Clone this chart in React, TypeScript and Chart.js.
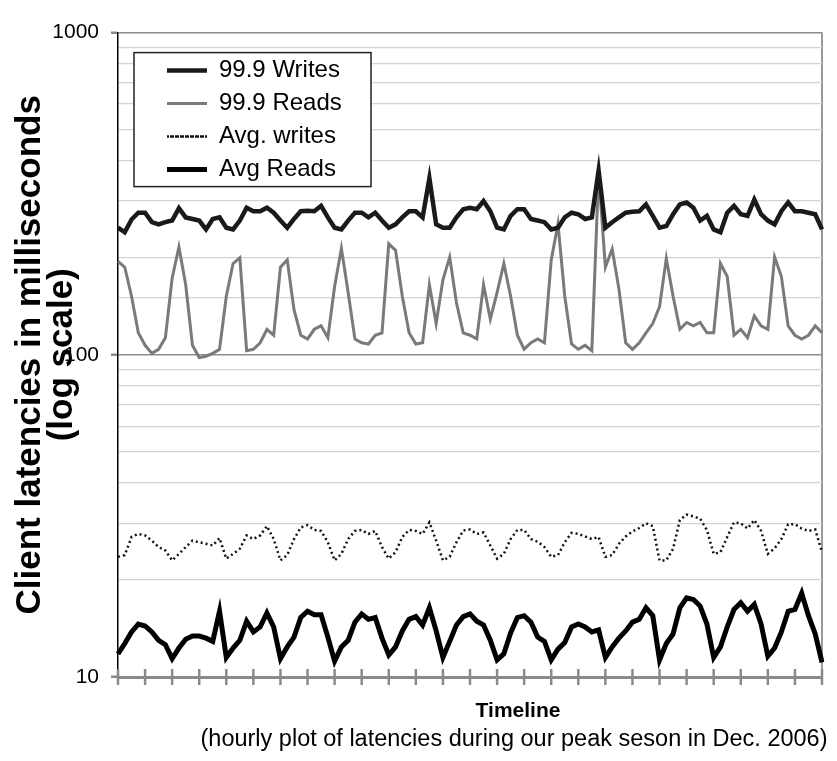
import React, { useEffect, useRef } from 'react';
import { Chart, registerables } from 'chart.js';

Chart.register(...registerables);

// ---- data ----
const timeline: string[] = Array.from({ length: 105 }, (_, i) => `t${i}`);
const TICK_EVERY = 4;

const writes999 = [
  248, 240, 263, 276, 276, 258, 254, 258, 261, 285,
  267, 264, 261, 245, 264, 267, 248, 245, 261, 286,
  279, 279, 286, 276, 261, 248, 264, 279, 280, 279,
  290, 267, 248, 245, 261, 276, 276, 267, 276, 261,
  248, 254, 267, 279, 279, 267, 353, 254, 248, 248,
  267, 283, 286,
  283, 300, 279, 248, 245, 270, 283,
  283, 264, 261, 258, 245, 248, 267, 276, 273, 264,
  267, 373, 248, 258, 267, 276, 278, 279, 293, 270,
  248, 251, 273, 293, 297, 286, 261, 270, 245, 240,
  276, 290, 273, 270, 303, 273, 261, 254, 279, 297,
  279, 279, 276, 273, 245,
];

const reads999 = [
  195, 187, 152, 117, 107, 101, 104, 113, 173, 216,
  165, 107, 98, 99, 101, 104, 152, 192, 200, 103,
  104, 109, 120, 115, 187, 197, 138, 115, 112, 120,
  123, 113, 163, 214, 156, 112, 109, 108, 115, 117,
  221, 211, 152, 117, 108, 109, 165, 125, 171, 201,
  145, 117, 115,
  112, 165, 129, 156, 192, 152, 115,
  104, 109, 112, 109, 197, 255, 152, 108, 104, 107,
  103, 366, 187, 213, 160, 109, 104, 109, 117, 125,
  141, 199, 152, 120, 126, 123, 126, 117, 117, 192,
  175, 115, 120, 113, 132, 123, 120, 201, 175, 123,
  115, 112, 115, 123, 117,
];

const avgWrites = [
  23.6, 23.9, 27.2, 27.8, 27.5, 26.5, 25.3, 24.7, 23.0, 24.1,
  25.3, 26.5, 26.2, 25.9, 25.6, 27.0, 23.3, 24.1, 25.0, 27.5,
  26.8, 27.5, 29.4, 26.8, 23.0, 23.9, 26.8, 29.1, 29.6, 28.6,
  28.4, 26.2, 23.0, 24.1, 26.8, 28.4, 28.6, 27.8, 28.4, 25.3,
  23.3, 24.4, 27.2, 28.6, 28.4, 27.8, 30.2, 26.5, 23.0, 23.6,
  26.2, 28.5, 28.7,
  27.8, 28.1, 25.6, 23.3, 24.1, 26.8, 28.6,
  28.6, 26.8, 26.3, 25.3, 23.6, 23.9, 26.2, 28.0, 27.8, 27.3,
  26.8, 27.2, 23.6, 23.9, 25.9, 27.3, 28.3, 29.0, 30.0, 29.4,
  23.0, 23.0, 25.0, 30.7, 31.9, 31.5, 31.0, 28.6, 24.1, 24.4,
  27.2, 30.2, 30.0, 28.9, 30.7, 28.4, 24.1, 25.1, 26.8, 29.8,
  29.8, 28.9, 28.4, 28.7, 24.4,
];

const avgReads = [
  11.8, 12.7, 13.8, 14.6, 14.4, 13.8, 13.0, 12.6, 11.4, 12.3,
  13.1, 13.4, 13.4, 13.2, 12.9, 16.0, 11.5, 12.3, 13.0, 14.9,
  13.8, 14.3, 15.8, 14.3, 11.4, 12.4, 13.3, 15.3, 16.0, 15.6,
  15.6, 13.3, 11.2, 12.4, 13.0, 14.8, 15.7, 15.1, 15.3, 13.2,
  11.7, 12.4, 13.9, 15.1, 15.4, 14.5, 16.4, 13.9, 11.5, 12.9,
  14.5, 15.4, 15.7,
  14.9, 14.5, 13.0, 11.3, 11.8, 13.7, 15.3,
  15.5, 14.8, 13.3, 12.9, 11.3, 12.2, 12.8, 14.3, 14.6, 14.3,
  13.8, 14.0, 11.5, 12.4, 13.2, 13.9, 14.8, 15.1, 16.4, 15.5,
  11.3, 12.7, 13.6, 16.4, 17.6, 17.4, 16.6, 14.6, 11.5, 12.4,
  14.3, 16.2, 17.0, 16.0, 16.8, 14.6, 11.6, 12.3, 13.8, 16.0,
  16.2, 18.2, 15.5, 13.6, 11.1,
];

const SERIES_NAMES = ['99.9 Writes', '99.9 Reads', 'Avg. writes', 'Avg Reads'];
const Y_LABELS = [10, 100, 1000];
const Y_TITLE = ['Client latencies in milliseconds', '(log scale)'];
const X_TITLE = ['Timeline', '(hourly plot of latencies during our peak seson in Dec. 2006)'];

const FONT = '"Liberation Sans", Arial, sans-serif';

const extrasPlugin = {
  id: 'extras',
  afterLayout(chart: any) {
    const lg = chart.legend;
    const ca = chart.chartArea;
    if (!lg) return;
    lg.left = ca.left + 40;
    lg.top = ca.top + 17;
    lg.right = lg.left + lg.width;
    lg.bottom = ca.bottom;
    if (!lg._boxed) {
      const orig = lg.draw.bind(lg);
      lg.draw = (...args: any[]) => {
        const c = chart.ctx;
        const a = chart.chartArea;
        c.save();
        c.fillStyle = '#ffffff';
        c.fillRect(a.left + 16, a.top + 20, 237, 134);
        c.strokeStyle = '#222222';
        c.lineWidth = 1.5;
        c.strokeRect(a.left + 16, a.top + 20, 237, 134);
        c.restore();
        orig(...args);
      };
      lg._boxed = true;
    }
  },
  beforeDatasetsDraw(chart: any) {
    const c = chart.ctx;
    const xs = chart.scales.x;
    const bottom = chart.chartArea.bottom;
    c.save();
    c.strokeStyle = '#8a8a8a';
    c.lineWidth = 2.5;
    for (let i = 0; i < timeline.length; i += TICK_EVERY) {
      const x = xs.getPixelForValue(i);
      c.beginPath();
      c.moveTo(x, bottom - 8);
      c.lineTo(x, bottom + 8);
      c.stroke();
    }
    c.restore();
  },
  afterDraw(chart: any) {
    const c = chart.ctx;
    const a = chart.chartArea;
    c.save();
    c.fillStyle = '#000';
    c.textAlign = 'center';
    c.textBaseline = 'middle';
    c.font = `bold 21px ${FONT}`;
    c.fillText(X_TITLE[0], a.left + 400, a.bottom + 34);
    c.font = `23.5px ${FONT}`;
    c.fillText(X_TITLE[1], a.left + 396, a.bottom + 63);
    c.restore();
  },
};

export default function App() {
  const ref = useRef<HTMLCanvasElement | null>(null);

  useEffect(() => {
    if (!ref.current) return;
    Chart.defaults.font.family = FONT;
    const chart = new Chart(ref.current, {
      type: 'line',
      data: {
        labels: timeline,
        datasets: [
          {
            label: SERIES_NAMES[0],
            data: writes999,
            borderColor: '#1a1a1a',
            backgroundColor: '#1a1a1a',
            borderWidth: 4.5,
            pointRadius: 0,
            tension: 0,
            fill: false,
          },
          {
            label: SERIES_NAMES[1],
            data: reads999,
            borderColor: '#7a7a7a',
            backgroundColor: '#7a7a7a',
            borderWidth: 3,
            pointRadius: 0,
            tension: 0,
            fill: false,
          },
          {
            label: SERIES_NAMES[2],
            data: avgWrites,
            borderColor: '#111111',
            backgroundColor: '#111111',
            borderWidth: 2.5,
            borderDash: [2, 3],
            pointRadius: 0,
            tension: 0,
            fill: false,
          },
          {
            label: SERIES_NAMES[3],
            data: avgReads,
            borderColor: '#000000',
            backgroundColor: '#000000',
            borderWidth: 5,
            pointRadius: 0,
            tension: 0,
            fill: false,
          },
        ],
      },
      options: {
        responsive: true,
        maintainAspectRatio: false,
        animation: false,
        layout: { padding: { top: 14, right: 7, left: 0, bottom: 0 } },
        plugins: {
          legend: {
            position: 'chartArea' as any,
            align: 'start',
            labels: {
              boxWidth: 40,
              boxHeight: 0,
              padding: 9,
              color: '#000',
              font: { family: FONT, size: 24 },
            },
          },
          tooltip: { enabled: false },
        },
        scales: {
          x: {
            type: 'category',
            offset: false,
            afterFit: (s: any) => { s.height = 76; },
            ticks: { display: false },
            grid: {
              drawTicks: false,
              drawOnChartArea: true,
              color: (c: any) => (c.index === timeline.length - 1 ? '#9a9a9a' : 'rgba(0,0,0,0)'),
              lineWidth: 2,
            },
            border: { color: '#8a8a8a', width: 3 },
            title: { display: false },
          },
          y: {
            type: 'logarithmic',
            min: 10,
            max: 1000,
            afterFit: (s: any) => { s.width = 110; },
            ticks: {
              autoSkip: false,
              padding: 12,
              color: '#000',
              font: { family: FONT, size: 21 },
              callback: (v: any) => (Y_LABELS.includes(Number(v)) ? String(v) : ''),
            },
            grid: {
              color: (c: any) => (c.tick && Y_LABELS.includes(c.tick.value) ? '#8c8c8c' : '#d4d4d4'),
              lineWidth: (c: any) => (c.tick && Y_LABELS.includes(c.tick.value) ? 1.5 : 1.2),
              tickColor: (c: any) => (c.tick && Y_LABELS.includes(c.tick.value) ? '#8a8a8a' : 'rgba(0,0,0,0)'),
              tickWidth: 2.5,
              tickLength: 7,
            },
            border: { color: '#000', width: 1.5 },
            title: {
              display: true,
              text: Y_TITLE,
              color: '#000',
              font: { family: FONT, size: 35, weight: 'bold', lineHeight: 0.92 },
              padding: { top: 6, bottom: 0 },
            },
          },
        },
      },
      plugins: [extrasPlugin],
    });
    return () => chart.destroy();
  }, []);

  return (
    <div style={{ position: 'relative', width: 821, height: 745 }}>
      <canvas ref={ref} style={{ display: 'block' }} />
    </div>
  );
}
